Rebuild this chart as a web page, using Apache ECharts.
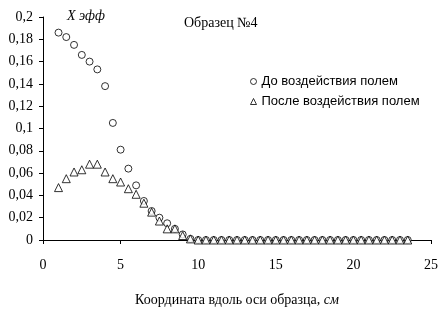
<!DOCTYPE html>
<html>
<head>
<meta charset="utf-8">
<script src="https://cdn.jsdelivr.net/npm/echarts@6/dist/echarts.min.js"></script>
<style>html,body{margin:0;padding:0;background:#fff}#c{width:444px;height:317px}</style>
</head>
<body>
<div id="c"></div>
<script>
const xCoords = [1, 1.5, 2, 2.5, 3, 3.5, 4, 4.5, 5, 5.5, 6, 6.5, 7, 7.5, 8, 8.5, 9, 9.5,
  10, 10.5, 11, 11.5, 12, 12.5, 13, 13.5, 14, 14.5, 15, 15.5, 16, 16.5, 17, 17.5,
  18, 18.5, 19, 19.5, 20, 20.5, 21, 21.5, 22, 22.5, 23, 23.5];
const beforeValues = [0.186, 0.182, 0.175, 0.166, 0.160, 0.153, 0.138, 0.105, 0.081, 0.064,
  0.049, 0.035, 0.026, 0.020, 0.015, 0.010, 0.005, 0.001,
  0, 0, 0, 0, 0, 0, 0, 0, 0, 0, 0, 0, 0, 0, 0, 0, 0, 0, 0, 0, 0, 0, 0, 0, 0, 0, 0, 0];
const afterValues = [0.047, 0.055, 0.061, 0.063, 0.068, 0.068, 0.061, 0.055, 0.052, 0.046,
  0.041, 0.033, 0.025, 0.017, 0.010, 0.010, 0.004, 0.001,
  0, 0, 0, 0, 0, 0, 0, 0, 0, 0, 0, 0, 0, 0, 0, 0, 0, 0, 0, 0, 0, 0, 0, 0, 0, 0, 0, 0];
const seriesNames = ['До воздействия полем', 'После воздействия полем'];
const chartTitle = 'Образец №4';
const yTitle = 'X эфф';
const xTitleMain = 'Координата вдоль оси образца, ';
const xTitleUnit = 'см';

const serif = 'Liberation Serif';
const sans = 'Liberation Sans';
const pairs = (ys) => xCoords.map((x, i) => [x, ys[i]]);
const fmtY = (v) => String(+v.toFixed(2)).replace('.', ',');

const chart = echarts.init(document.getElementById('c'));
const baseX = { type: 'value', min: 0, max: 25, interval: 5, splitLine: { show: false } };
const baseY = { type: 'value', min: 0, max: 0.2, interval: 0.02, splitLine: { show: false } };
chart.setOption({
  animation: false,
  grid: { left: 43, right: 13, top: 17, bottom: 77 },
  xAxis: [
    Object.assign({}, baseX, {
      axisLine: { show: true, lineStyle: { color: '#000', width: 1 } },
      axisTick: { show: true, length: 4, lineStyle: { color: '#000' } },
      axisLabel: { color: '#000', fontFamily: serif, fontSize: 14, margin: 18 },
      name: '{a|' + xTitleMain + '}{b|' + xTitleUnit + '}',
      nameLocation: 'middle', nameGap: 53,
      nameTextStyle: { rich: {
        a: { fontFamily: serif, fontSize: 14, color: '#000' },
        b: { fontFamily: serif, fontSize: 14, fontStyle: 'italic', color: '#000' }
      } }
    }),
    Object.assign({}, baseX, {
      axisLine: { show: false },
      axisTick: { show: true, inside: true, length: 4, lineStyle: { color: '#000' } },
      axisLabel: { show: false }
    })
  ],
  yAxis: [
    Object.assign({}, baseY, {
      axisLine: { show: true, lineStyle: { color: '#000', width: 1 } },
      axisTick: { show: true, length: 4, lineStyle: { color: '#000' } },
      axisLabel: { color: '#000', fontFamily: serif, fontSize: 14, margin: 10, formatter: fmtY }
    }),
    Object.assign({}, baseY, {
      axisLine: { show: false },
      axisTick: { show: true, inside: true, length: 4, lineStyle: { color: '#000' } },
      axisLabel: { show: false }
    })
  ],
  legend: {
    orient: 'vertical', left: 245, top: 70, itemWidth: 6, itemHeight: 6, itemGap: 7,
    itemStyle: { borderWidth: 1 },
    textStyle: { fontFamily: sans, fontSize: 13, color: '#000' },
    data: [
      { name: seriesNames[0], icon: 'circle' },
      { name: seriesNames[1], icon: 'triangle' }
    ]
  },
  graphic: [
    { type: 'text', left: 184, top: 16, style: { text: chartTitle, font: '14px "Liberation Serif"', fill: '#000' } },
    { type: 'text', left: 67, top: 9, style: { text: yTitle, font: 'italic 14px "Liberation Serif"', fill: '#000' } }
  ],
  series: [
    {
      name: seriesNames[0], type: 'scatter', symbol: 'circle', symbolSize: 7,
      itemStyle: { color: '#fff', borderColor: '#000', borderWidth: 1 },
      data: pairs(beforeValues), z: 3
    },
    {
      name: seriesNames[1], type: 'scatter', symbol: 'triangle', symbolSize: 8,
      itemStyle: { color: '#fff', borderColor: '#000', borderWidth: 1 },
      data: pairs(afterValues), z: 4
    }
  ]
});
</script>
</body>
</html>
